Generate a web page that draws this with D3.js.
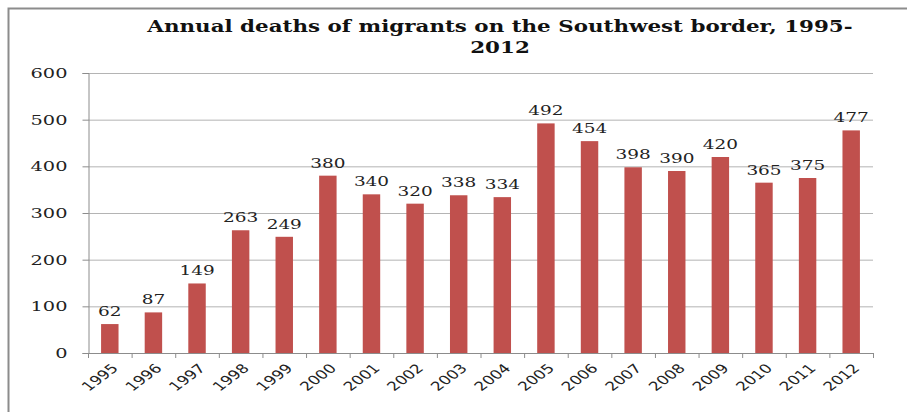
<!DOCTYPE html>
<html>
<head>
<meta charset="utf-8">
<script src="https://cdn.jsdelivr.net/npm/d3@7"></script>
<style>
  body { margin: 0; background: #fff; }
  svg { display: block; }
</style>
</head>
<body>
<svg id="chart"></svg>
<script>
var years = ["1995","1996","1997","1998","1999","2000","2001","2002","2003",
  "2004","2005","2006","2007","2008","2009","2010","2011","2012"];
var deaths = [62, 87, 149, 263, 249, 380, 340, 320, 338, 334, 492, 454, 398, 390, 420, 365, 375, 477];
var yTicks = [0, 100, 200, 300, 400, 500, 600];
var titleLines = ["Annual deaths of migrants on the Southwest border, 1995-", "2012"];

let width = 907;
let height = 412;
let margin = { left: 88, right: 34, top: 73, bottom: 59 };
let stretch = 1.35; // the source picture is widened, so its text is too
let data = years.map((y, i) => ({ year: y, value: deaths[i] }));

let svg = d3.select("#chart")
  .attr("width", width)
  .attr("height", height)
  .attr("viewBox", [0, 0, width, height]);

// outer frame, runs off the right and bottom edge
svg.append("rect")
  .attr("x", 8.5).attr("y", 8.5)
  .attr("width", width + 20).attr("height", height + 20)
  .attr("fill", "none")
  .attr("stroke", "#8c8c8c")
  .attr("stroke-width", 2);

let xScale = d3.scaleBand()
  .domain(years)
  .range([margin.left, width - margin.right])
  .paddingInner(0.6)
  .paddingOuter(0.3);

let yScale = d3.scaleLinear()
  .domain([0, 600])
  .range([height - margin.bottom, margin.top]);

// gridlines
svg.append("g")
  .selectAll("line")
  .data(yTicks.slice(1))
  .join("line")
  .attr("x1", margin.left)
  .attr("x2", width - margin.right)
  .attr("y1", d => yScale(d) + 0.5)
  .attr("y2", d => yScale(d) + 0.5)
  .attr("stroke", "#b4b4b4");

// y axis
let yAxis = d3.axisLeft(yScale)
  .tickValues(yTicks)
  .tickSize(6);

svg.append("g")
  .attr("transform", `translate(${margin.left + 0.5}, 0)`)
  .call(yAxis)
  .call(g => g.select(".domain").attr("stroke", "#8c8c8c"))
  .call(g => g.selectAll(".tick line").attr("stroke", "#8c8c8c"))
  .selectAll("text")
  .attr("x", 0)
  .attr("dy", "0.35em")
  .attr("transform", "translate(-21, 0) scale(1.55, 1)")
  .attr("font-family", "DejaVu Serif")
  .attr("font-size", 12.5)
  .attr("fill", "#222");

// x axis: ticks at category boundaries
let boundaries = years.map(y => xScale(y) - xScale.step() * xScale.paddingInner() / 2);
boundaries.push(width - margin.right);

let xAxisG = svg.append("g");
xAxisG.append("line")
  .attr("x1", margin.left)
  .attr("x2", width - margin.right)
  .attr("y1", yScale(0) + 0.5)
  .attr("y2", yScale(0) + 0.5)
  .attr("stroke", "#8c8c8c");

xAxisG.selectAll("line.tick")
  .data(boundaries)
  .join("line")
  .attr("class", "tick")
  .attr("x1", d => d + 0.5)
  .attr("x2", d => d + 0.5)
  .attr("y1", yScale(0))
  .attr("y2", yScale(0) + 5)
  .attr("stroke", "#8c8c8c");

xAxisG.selectAll("text")
  .data(years)
  .join("text")
  .attr("transform", d => `translate(${xScale(d) + xScale.bandwidth() / 2 + 1}, ${yScale(0) + 10}) scale(${stretch}, 1) rotate(-45)`)
  .attr("text-anchor", "end")
  .attr("dy", "0.7em")
  .attr("font-family", "DejaVu Sans")
  .attr("font-size", 12.5)
  .attr("fill", "#222")
  .text(d => d);

// bars
svg.append("g")
  .selectAll("rect")
  .data(data)
  .join("rect")
  .attr("x", d => xScale(d.year))
  .attr("y", d => yScale(d.value))
  .attr("width", xScale.bandwidth())
  .attr("height", d => yScale(0) - yScale(d.value))
  .attr("fill", "#c0504d");

// value labels
svg.append("g")
  .selectAll("text")
  .data(data)
  .join("text")
  .attr("transform", d => `translate(${xScale(d.year) + xScale.bandwidth() / 2}, ${yScale(d.value) - 8}) scale(1.42, 1)`)
  .attr("text-anchor", "middle")
  .attr("font-family", "DejaVu Serif")
  .attr("font-size", 13)
  .attr("fill", "#222")
  .text(d => d.value);

// title
svg.append("g")
  .attr("transform", "translate(500, 0) scale(1.26, 1)")
  .append("text")
  .attr("text-anchor", "middle")
  .attr("font-family", "DejaVu Serif")
  .attr("font-weight", "bold")
  .attr("font-size", 17)
  .attr("fill", "#111")
  .selectAll("tspan")
  .data(titleLines)
  .join("tspan")
  .attr("x", 0)
  .attr("y", (d, i) => 32 + i * 21)
  .text(d => d);
</script>
</body>
</html>
